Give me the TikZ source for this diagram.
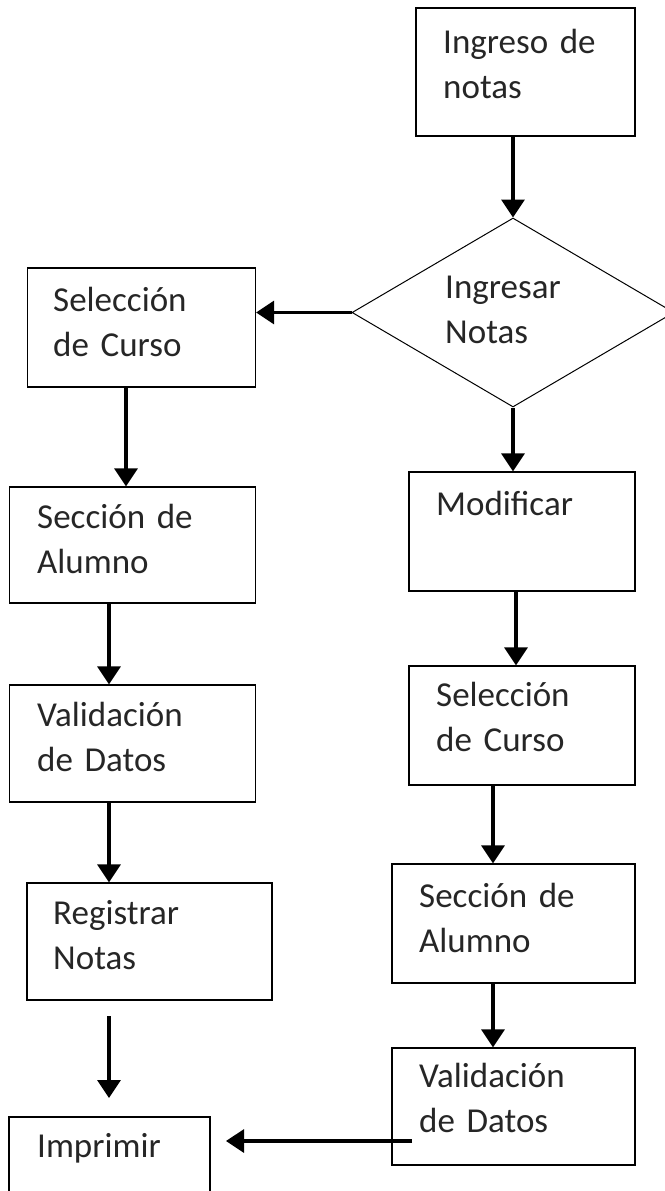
\documentclass[tikz,border=0pt]{standalone}
\usepackage{fontspec}
\setmainfont{Carlito}
\usetikzlibrary{arrows.meta,shapes.geometric,calc}
\begin{document}
\begin{tikzpicture}[x=1pt,y=-1pt,
  box/.style={draw=black,line width=1.2pt,rectangle,inner sep=0pt},
  dec/.style={draw=black,line width=1pt,diamond,inner sep=0pt,minimum width=322pt,minimum height=189pt},
  lbl/.style={inner sep=0pt,anchor=base west,text width=220pt,align=left,
    font=\fontsize{35}{45.5}\selectfont,text=black!85},
  arr/.style={line width=3.2pt,-{Triangle[length=18pt,width=23pt]}}]
\useasboundingbox (0,0) rectangle (664,1191);
% boxes
\node[box,minimum width=219pt,minimum height=128pt] (ing) at (525.5,72) {};
\node[dec] (dia) at (513,312.5) {};
\node[box,minimum width=228pt,minimum height=119pt] (selL) at (141.5,327.5) {};
\node[box,minimum width=246pt,minimum height=116pt] (secL) at (132.5,545) {};
\node[box,minimum width=246pt,minimum height=117pt] (valL) at (132.5,743.5) {};
\node[box,minimum width=245pt,minimum height=117pt] (reg) at (149.5,941.5) {};
\node[box,minimum width=201pt,minimum height=120pt] (imp) at (109.5,1177) {};
\node[box,minimum width=226pt,minimum height=119pt] (mod) at (522,531.5) {};
\node[box,minimum width=226pt,minimum height=119pt] (selR) at (522,725.5) {};
\node[box,minimum width=243pt,minimum height=119pt] (secR) at (513.5,923.5) {};
\node[box,minimum width=243pt,minimum height=117pt] (valR) at (513.5,1106.5) {};
% texts
\node[lbl] (t1) at (443,53) {Ingreso de\\notas};
\node[lbl] (t2) at (445,298) {Ingresar\\Notas};
\node[lbl] (t3) at (53,311) {Selección\\de Curso};
\node[lbl] (t4) at (37,528) {Sección de\\Alumno};
\node[lbl] (t5) at (37,726) {Validación\\de Datos};
\node[lbl] (t6) at (53,924) {Registrar\\Notas};
\node[lbl] (t7) at (37,1157) {Imprimir};
\node[lbl] (t8) at (436,515) {Modificar};
\node[lbl] (t9) at (436,706) {Selección\\de Curso};
\node[lbl] (t10) at (419,907) {Sección de\\Alumno};
\node[lbl] (t11) at (419,1087) {Validación\\de Datos};
% connectors
\draw[arr] (ing.south -| dia.north) -- (dia.north);
\draw[arr] (dia.west) -- (dia.west -| selL.east);
\draw[arr] (126,387) coordinate (a1) -- (a1 |- secL.north);
\draw[arr] (109,603) coordinate (a2) -- (a2 |- valL.north);
\draw[arr] (109,802) coordinate (a3) -- (a3 |- reg.north);
\draw[arr] (109,1016) coordinate (a4) -- (109,1098) coordinate (a5);
\draw[arr] (dia.south) -- (dia.south |- mod.north);
\draw[arr] (516,591) coordinate (a6) -- (a6 |- selR.north);
\draw[arr] (493,785) coordinate (a7) -- (a7 |- secR.north);
\draw[arr] (493,983) coordinate (a8) -- (a8 |- valR.north);
\draw[arr] (412,1141) coordinate (a9) -- (226,1141) coordinate (a10);
\end{tikzpicture}
\end{document}
